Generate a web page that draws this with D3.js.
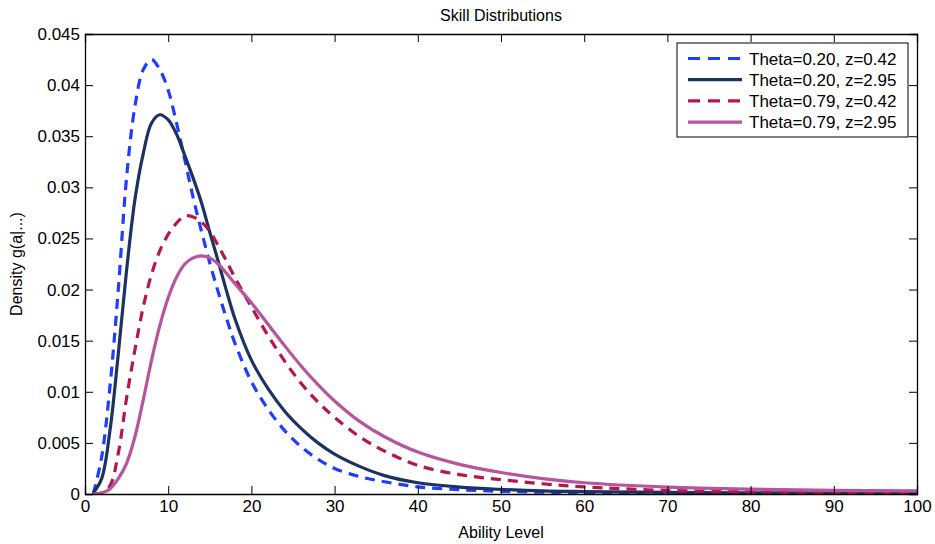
<!DOCTYPE html>
<html><head><meta charset="utf-8">
<script src="https://cdn.jsdelivr.net/npm/d3@7"></script>
<style>body{margin:0;background:#fff}text{font-family:"Liberation Sans",Arial,sans-serif;fill:#000}</style>
</head><body><svg id="c" width="935" height="544"></svg>
<script>
const xs = [1,2,3,4,5,6,7,8,9,10,11,12,13,14,15,16,17,18,20,22,24,26,28,30,33,36,40,45,50,55,60,70,80,90,100];
const blueVals = [0,0.0036,0.0105,0.020,0.031,0.0379,0.0415,0.0425,0.0415,0.0395,0.0363,0.0327,0.029,0.0257,0.0226,0.0198,0.0172,0.0148,0.011,0.0083,0.0062,0.0046,0.0034,0.0025,0.0017,0.0012,0.0007,0.00042,0.00026,0.00017,0.00011,0.00005,0.00003,0.00002,0.00001];
const navyVals = [0.0001,0.0015,0.0062,0.0137,0.0219,0.0288,0.0333,0.0363,0.0371,0.0366,0.0352,0.0331,0.0309,0.0285,0.0256,0.0228,0.0199,0.0172,0.0131,0.0103,0.0081,0.0064,0.005,0.0039,0.0027,0.0018,0.0011,0.00068,0.00045,0.0003,0.00024,0.00017,0.00012,0.00009,0.00007];
const redVals = [0,0.0001,0.0008,0.004,0.0094,0.0141,0.0183,0.0215,0.0238,0.0254,0.0265,0.0272,0.0271,0.0266,0.0257,0.0243,0.0228,0.0212,0.0183,0.0155,0.013,0.0108,0.009,0.0075,0.0056,0.0042,0.0028,0.0019,0.0014,0.001,0.0007,0.00035,0.00022,0.00017,0.00013];
const magentaVals = [0,0.0001,0.0005,0.0015,0.003,0.0056,0.0092,0.0131,0.0165,0.0192,0.0212,0.0225,0.0231,0.0233,0.0231,0.0225,0.0216,0.0206,0.0187,0.0166,0.0145,0.0125,0.0107,0.0091,0.0071,0.0056,0.0041,0.0029,0.0021,0.0015,0.0011,0.00068,0.00047,0.00036,0.0003];
const seriesNames = ["Theta=0.20, z=0.42","Theta=0.20, z=2.95","Theta=0.79, z=0.42","Theta=0.79, z=2.95"];
const seriesColors = ["#1f3cff","#1b3263","#b5174b","#b6549d"];
const seriesDashed = [true,false,true,false];
const xTicks = [0,10,20,30,40,50,60,70,80,90,100];
const yTicks = [0,0.005,0.01,0.015,0.02,0.025,0.03,0.035,0.04,0.045];

const allVals = [blueVals,navyVals,redVals,magentaVals];
const svg = d3.select("#c");
const L=85,R=917,T=34,B=494;
const x = d3.scaleLinear().domain([0,100]).range([L,R]);
const y = d3.scaleLinear().domain([0,0.045]).range([B,T]);
svg.append("clipPath").attr("id","cp").append("rect").attr("x",L).attr("y",T-10).attr("width",R-L).attr("height",B-T+10);

const line = d3.line().x(d=>x(d[0])).y(d=>y(Math.max(0,d[1]))).curve(d3.curveCatmullRom.alpha(0.5));
const g = svg.append("g").attr("clip-path","url(#cp)");
allVals.forEach((vals,i)=>{
  g.append("path").datum(xs.map((v,j)=>[v,vals[j]]))
   .attr("d",line).attr("fill","none").attr("stroke",seriesColors[i])
   .attr("stroke-width",3.2).attr("stroke-dasharray",seriesDashed[i]?"10,7":null);
});

const fs=17;
const ax = svg.append("g").attr("transform",`translate(0,${B})`).call(d3.axisBottom(x).tickValues(xTicks).tickSize(-8).tickPadding(6).tickFormat(d3.format("d")));
const axT = svg.append("g").attr("transform",`translate(0,${T})`).call(d3.axisTop(x).tickValues(xTicks).tickSize(-8).tickFormat(""));
const ay = svg.append("g").attr("transform",`translate(${L},0)`).call(d3.axisLeft(y).tickValues(yTicks).tickSize(-8).tickPadding(5).tickFormat(d=>d===0?"0":String(+d.toFixed(3))));
const ayR = svg.append("g").attr("transform",`translate(${R},0)`).call(d3.axisRight(y).tickValues(yTicks).tickSize(-8).tickFormat(""));
[ax,axT,ay,ayR].forEach(a=>{a.select(".domain").attr("stroke","#000").attr("stroke-width",1.3);a.selectAll(".tick line").attr("stroke","#000");a.selectAll("text").style("font-size",fs+"px").style("font-family",'"Liberation Sans",Arial,sans-serif').attr("fill","#000");});
ax.selectAll(".tick").filter(d=>d===0||d===100).select("line").remove();
axT.selectAll(".tick").filter(d=>d===0||d===100).select("line").remove();
ay.selectAll(".tick").filter(d=>d===0).select("line").remove();
ayR.selectAll(".tick").filter(d=>d===0).select("line").remove();

svg.append("text").attr("x",(L+R)/2).attr("y",21).attr("text-anchor","middle").style("font-size","16px").text("Skill Distributions");
svg.append("text").attr("x",(L+R)/2).attr("y",538).attr("text-anchor","middle").style("font-size","16px").text("Ability Level");
svg.append("text").attr("transform",`translate(22,${(T+B)/2}) rotate(-90)`).attr("text-anchor","middle").style("font-size","16px").text("Density g(a|...)");

const lg = svg.append("g");
lg.append("rect").attr("x",677).attr("y",43).attr("width",231).attr("height",94).attr("fill","#fff").attr("stroke","#000").attr("stroke-width",1);
seriesNames.forEach((n,i)=>{
  const yy = 58.5+i*21.2;
  lg.append("line").attr("x1",688).attr("x2",742).attr("y1",yy).attr("y2",yy).attr("stroke",seriesColors[i]).attr("stroke-width",3.2).attr("stroke-dasharray",seriesDashed[i]?"12,8":null);
  lg.append("text").attr("x",749).attr("y",yy+6).style("font-size","17px").text(n);
});
</script></body></html>
